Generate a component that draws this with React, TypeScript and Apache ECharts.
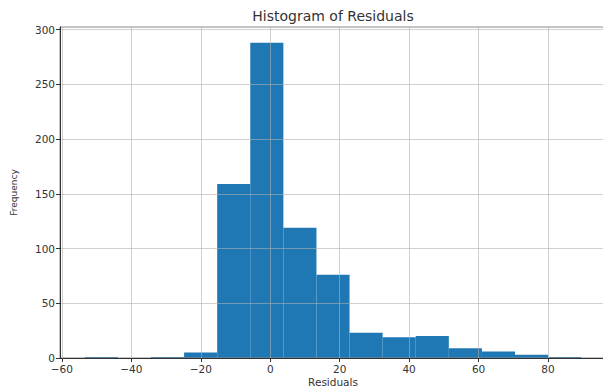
import React, { useEffect, useRef } from "react";
import * as echarts from "echarts";

const binEdges = [-53.4, -43.87, -34.34, -24.81, -15.28, -5.75, 3.78, 13.31, 22.84, 32.37, 41.9, 51.43, 60.96, 70.49, 80.02, 89.55];
const counts = [1, 0, 1, 5, 159, 288, 119, 76, 23, 19, 20, 9, 6, 3, 1];
const xTicks = [-60, -40, -20, 0, 20, 40, 60, 80];
const yTicks = [0, 50, 100, 150, 200, 250, 300];

const FONT = "DejaVu Sans";

export default function App() {
  const ref = useRef<HTMLDivElement>(null);
  useEffect(() => {
    if (!ref.current) return;
    const chart = echarts.init(ref.current, undefined, { renderer: "svg" });
    const data = counts.map((c, i) => [binEdges[i], binEdges[i + 1], c]);
    const span = binEdges[binEdges.length - 1] - binEdges[0];
    const xMin = binEdges[0] - 0.05 * span;
    const xMax = binEdges[binEdges.length - 1] + 0.05 * span;
    const yMax = Math.max(...counts) * 1.05;
    const fmt = (v: number) => (v < 0 ? "\u2212" + Math.abs(v) : String(v));
    chart.setOption({
      animation: false,
      backgroundColor: "#ffffff",
      grid: {
        left: 60,
        right: -3,
        top: 27,
        bottom: 29,
        outerBoundsMode: "none",
        containLabel: false,
        show: true,
        borderColor: "#8a8a8a",
        borderWidth: 1,
        backgroundColor: "transparent",
      },
      graphic: [
        {
          type: "text",
          x: 333,
          y: 16,
          style: {
            text: "Histogram of Residuals",
            align: "center",
            verticalAlign: "middle",
            fontFamily: FONT,
            fontSize: 14,
            fill: "#333",
          },
        },
      ],
      xAxis: {
        type: "value",
        min: xMin,
        max: xMax,
        name: "Residuals",
        nameLocation: "middle",
        nameGap: 18,
        nameMoveOverlap: false,
        nameTextStyle: { fontFamily: FONT, fontSize: 10.5, color: "#333" },
        axisLine: { show: true, onZero: false, lineStyle: { color: "#333", width: 1 } },
        axisTick: { show: true, length: 4, customValues: xTicks, lineStyle: { color: "#333" } },
        axisLabel: {
          customValues: xTicks,
          formatter: fmt,
          fontFamily: FONT,
          fontSize: 10.5,
          color: "#333",
          margin: 5,
        },
        splitLine: { show: true, lineStyle: { color: "rgba(176,176,176,0.6)", width: 1 } },
      },
      yAxis: {
        type: "value",
        min: 0,
        max: yMax,
        name: "Frequency",
        nameLocation: "middle",
        nameGap: 42,
        nameMoveOverlap: false,
        nameTextStyle: { fontFamily: FONT, fontSize: 9, color: "#333" },
        axisLine: { show: true, onZero: false, lineStyle: { color: "#333", width: 1 } },
        axisTick: { show: true, length: 4, customValues: yTicks, lineStyle: { color: "#333" } },
        axisLabel: {
          customValues: yTicks,
          fontFamily: FONT,
          fontSize: 10.5,
          color: "#333",
          margin: 5,
        },
        splitLine: { show: true, lineStyle: { color: "rgba(176,176,176,0.6)", width: 1 } },
      },
      series: [
        {
          type: "custom",
          z: -1,
          data,
          encode: { x: [0, 1], y: 2 },
          renderItem: (params: any, api: any) => {
            const x0 = api.value(0);
            const x1 = api.value(1);
            const y = api.value(2);
            const p0 = api.coord([x0, y]);
            const p1 = api.coord([x1, 0]);
            return {
              type: "rect",
              shape: { x: p0[0], y: p0[1], width: p1[0] - p0[0], height: p1[1] - p0[1] },
              style: { fill: "#1f77b4" },
            };
          },
        },
      ],
    });
    return () => chart.dispose();
  }, []);
  return <div ref={ref} style={{ width: 603, height: 387, position: "absolute", left: 0, top: 0 }} />;
}
